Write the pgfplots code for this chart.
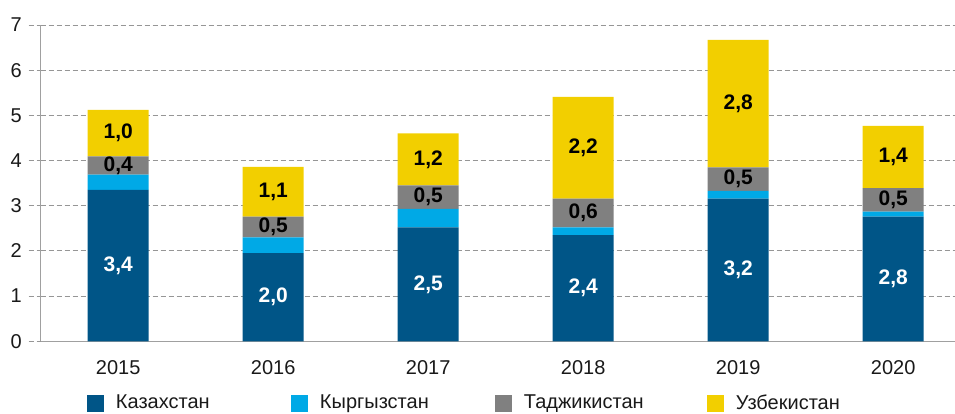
\documentclass[border=0pt]{standalone}
\usepackage{pgfplots}
\pgfplotsset{compat=1.18}
\usepackage{pgfplotstable}
\usepackage{fontspec}
\setmainfont{Liberation Sans}
\definecolor{kaz}{RGB}{0,85,135}
\definecolor{kyr}{RGB}{0,169,230}
\definecolor{taj}{RGB}{128,128,128}
\definecolor{uzb}{RGB}{242,207,0}
\definecolor{axgray}{RGB}{160,160,160}
\definecolor{gridgray}{RGB}{150,150,150}
\definecolor{txt}{RGB}{25,25,25}
\pgfplotstableread{
x kaz kazl kyr tad tadl uzb uzbl
0 3.35 3,4 0.34 0.40 0,4 1.03 1,0
1 1.95 2,0 0.35 0.46 0,5 1.10 1,1
2 2.52 2,5 0.41 0.52 0,5 1.15 1,2
3 2.35 2,4 0.17 0.64 0,6 2.25 2,2
4 3.16 3,2 0.17 0.52 0,5 2.82 2,8
5 2.76 2,8 0.11 0.52 0,5 1.38 1,4
}\datatable
\pgfplotsset{mylegend/.style={legend image code/.code={\fill[##1,draw=none] (0pt,-8.5pt) rectangle (17pt,8.5pt);}}}
\begin{document}
\fontsize{20}{24}\selectfont
\begin{tikzpicture}
\path[use as bounding box] (-40.7pt,-72.7pt) rectangle (914.3pt,341.3pt);
\begin{axis}[
  scale only axis, width=914.3pt, height=316.3pt,
  xmin=-0.5, xmax=5.399, ymin=0, ymax=7,
  ybar stacked, bar width=61pt,
  axis x line*=bottom, axis y line*=left,
  axis line style={axgray, line width=1.5pt, -},
  xtick={0,1,2,3,4,5}, xticklabels={2015,2016,2017,2018,2019,2020},
  ytick={0,1,2,3,4,5,6,7},
  ymajorgrids,
  grid style={gridgray, line width=1pt, dash pattern=on 5pt off 3pt},
  tick align=outside, major tick length=12pt,
  ytick style={gridgray, line width=1pt, dash pattern=on 5pt off 3pt},
  xtick style={draw=none},
  xticklabel style={text=txt},
  yticklabel style={text=txt},
  /pgf/number format/assume math mode=true,
  point meta=explicit symbolic,
  legend style={at={(0.0506,-0.197)}, anchor=west, draw=none, fill=none,
    inner sep=0pt, outer sep=0pt, text=txt,
    /tikz/every odd column/.append style={column sep=12pt},
    nodes={inner sep=0pt}},
  legend columns=-1, legend cell align=left,
]
\addplot[fill=kaz, draw=none, mylegend, nodes near coords,
  every node near coord/.append style={text=white, font=\bfseries\fontsize{21}{24}\selectfont, anchor=center}]
  table[x=x, y=kaz, meta=kazl] {\datatable};
\addlegendentry{\makebox[175pt][l]{Казахстан}}
\addplot[fill=kyr, draw=none, mylegend]
  table[x=x, y=kyr, meta=kazl] {\datatable};
\addlegendentry{\makebox[175pt][l]{Кыргызстан}}
\addplot[fill=taj, draw=none, mylegend, nodes near coords,
  every node near coord/.append style={text=black, font=\bfseries\fontsize{21}{24}\selectfont, anchor=center}]
  table[x=x, y=tad, meta=tadl] {\datatable};
\addlegendentry{\makebox[183pt][l]{Таджикистан}}
\addplot[fill=uzb, draw=none, mylegend, nodes near coords,
  every node near coord/.append style={text=black, font=\bfseries\fontsize{21}{24}\selectfont, anchor=center}]
  table[x=x, y=uzb, meta=uzbl] {\datatable};
\addlegendentry{Узбекистан}
\end{axis}
\end{tikzpicture}
\end{document}
